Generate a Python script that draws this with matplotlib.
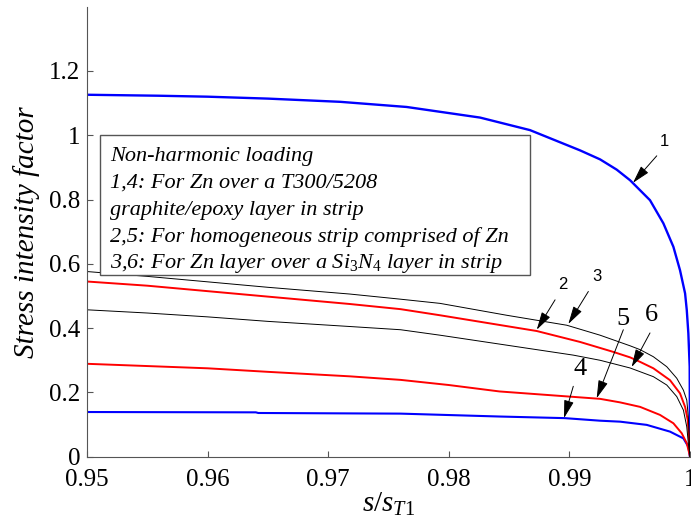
import matplotlib
matplotlib.use('Agg')
import matplotlib.pyplot as plt
from matplotlib.ticker import FuncFormatter
from matplotlib.patches import Rectangle

plt.rcParams['font.family'] = ['Liberation Serif', 'DejaVu Serif']
plt.rcParams['mathtext.fontset'] = 'custom'
plt.rcParams['mathtext.rm'] = 'Liberation Serif'
plt.rcParams['mathtext.it'] = 'Liberation Serif:italic'

# curve 1: blue, Zn over T300/5208
x1 = [0.950, 0.9559, 0.960, 0.965, 0.9710, 0.9765, 0.98259, 0.98673, 0.99088, 0.99254,
      0.99392, 0.99503, 0.99668, 0.99779, 0.99862, 0.99917, 0.99959, 0.99973, 0.99986,
      0.99997, 1.0]
y1 = [1.126, 1.123, 1.120, 1.114, 1.104, 1.088, 1.055, 1.016, 0.953, 0.925,
      0.893, 0.860, 0.798, 0.726, 0.653, 0.580, 0.508, 0.456, 0.384,
      0.280, 0.0]
# curve 2: red, homogeneous Zn
x2 = [0.950, 0.955, 0.960, 0.965, 0.9718, 0.9760, 0.97927, 0.98729, 0.99088, 0.99364,
      0.99503, 0.99586, 0.99696, 0.99834, 0.99917, 0.99959, 0.99981, 0.99992, 1.0]
y2 = [0.545, 0.532, 0.515, 0.498, 0.475, 0.459, 0.440, 0.391, 0.357, 0.326,
      0.309, 0.295, 0.275, 0.238, 0.197, 0.155, 0.114, 0.052, 0.0]
# curve 3: black, Zn over Si3N4
x3 = [0.950, 0.955, 0.960, 0.965, 0.9718, 0.9760, 0.97927, 0.9848, 0.98978, 0.99254,
      0.99503, 0.99586, 0.99696, 0.99807, 0.99890, 0.99945, 0.99973, 0.99986, 0.99994, 1.0]
y3 = [0.576, 0.561, 0.544, 0.527, 0.506, 0.490, 0.477, 0.440, 0.409, 0.378,
      0.345, 0.333, 0.311, 0.280, 0.244, 0.207, 0.176, 0.124, 0.052, 0.0]
# curve 4: blue, lower
x4 = [0.950, 0.9640, 0.9642, 0.976, 0.9842, 0.9896, 0.99254, 0.99420, 0.99641,
      0.99834, 0.99945, 0.99986, 1.0]
y4 = [0.139, 0.138, 0.136, 0.134, 0.125, 0.120, 0.112, 0.109, 0.099,
      0.078, 0.057, 0.031, 0.0]
# curve 5: red, lower
x5 = [0.950, 0.955, 0.960, 0.965, 0.9718, 0.9760, 0.980, 0.9842, 0.99254, 0.99420,
      0.99586, 0.99751, 0.99862, 0.99931, 0.99973, 0.99994, 1.0]
y5 = [0.289, 0.282, 0.275, 0.264, 0.250, 0.239, 0.223, 0.203, 0.180, 0.169,
      0.155, 0.130, 0.104, 0.073, 0.042, 0.010, 0.0]
# curve 6: black, lower
x6 = [0.950, 0.955, 0.960, 0.965, 0.9718, 0.9760, 0.97927, 0.9848, 0.99032, 0.99254,
      0.99503, 0.99696, 0.99807, 0.99890, 0.99945, 0.99973, 0.99986, 1.0]
y6 = [0.457, 0.447, 0.435, 0.421, 0.405, 0.395, 0.378, 0.347, 0.316, 0.300,
      0.276, 0.249, 0.223, 0.187, 0.145, 0.093, 0.042, 0.0]

# arrow labels: (label, head, tail, text pos)
arrows = [
    ('1', (0.99527, 0.852), (0.99724, 0.936), (0.99784, 0.980)),
    ('2', (0.98729, 0.395), (0.98881, 0.488), (0.98944, 0.535)),
    ('3', (0.98991, 0.413), (0.99157, 0.514), (0.99226, 0.560)),
    ('4', (0.98955, 0.120), (0.99032, 0.219), (0.99088, 0.272)),
    ('5', (0.99226, 0.182), (0.99447, 0.395), (0.99447, 0.428)),
    ('6', (0.99516, 0.279), (0.99668, 0.385), (0.99682, 0.441)),
]

legend_lines = [
    'Non-harmonic loading',
    '1,4: For Zn over a T300/5208',
    'graphite/epoxy layer in strip',
    '2,5: For homogeneous strip comprised of Zn',
    '3,6: For Zn layer over a Si$_3$N$_4$ layer in strip',
]

fig = plt.figure(figsize=(6.91, 5.30), dpi=100)
ax = fig.add_axes([0.1259, 0.1383, 0.8727, 0.8491])

ax.plot(x1, y1, color='#0000ff', lw=1.7)
ax.plot(x4, y4, color='#0000ff', lw=1.5)
ax.plot(x2, y2, color='#ff0000', lw=1.4)
ax.plot(x5, y5, color='#ff0000', lw=1.4)
ax.plot(x3, y3, color='k', lw=0.7)
ax.plot(x6, y6, color='k', lw=0.7)

ax.set_xlim(0.95, 1.0)
ax.set_ylim(0, 1.4)
ax.set_xticks([0.95, 0.96, 0.97, 0.98, 0.99, 1.0])
ax.set_yticks([0, 0.2, 0.4, 0.6, 0.8, 1.0, 1.2])
fmt = FuncFormatter(lambda v, p: '%g' % round(v, 4))
ax.xaxis.set_major_formatter(fmt)
ax.yaxis.set_major_formatter(fmt)

for s in ['top', 'right']:
    ax.spines[s].set_visible(False)
for s in ['left', 'bottom']:
    ax.spines[s].set_color('#555555')
ax.tick_params(direction='in', length=4, color='#555555', labelsize=18)
ax.tick_params(axis='x', pad=9)
ax.tick_params(axis='y', pad=5)

ax.set_xlabel(r'$\mathit{s/s_{T1}}$', fontsize=21, labelpad=0)
ax.set_ylabel('Stress intensity factor', fontsize=21, style='italic', labelpad=6)

# legend box
ax.add_patch(Rectangle((0.0216, 0.4044), 0.7131, 0.3112, transform=ax.transAxes,
                       fill=True, facecolor='white', edgecolor='#555555', lw=1.0, zorder=3))
for i, t in enumerate(legend_lines):
    ax.text(0.038, 0.666 - i * 0.059, t, transform=ax.transAxes, fontsize=16,
            style='italic', va='center', ha='left', zorder=4)

for lab, head, tail, tpos in arrows:
    ax.annotate('', xy=head, xytext=tail,
                arrowprops=dict(arrowstyle='-|>,head_length=1.1,head_width=0.3',
                                color='k', lw=0.7, mutation_scale=10,
                                shrinkA=0, shrinkB=0))
    if lab in '123':
        ax.text(tpos[0], tpos[1], lab, fontsize=12, family='Liberation Sans',
                ha='center', va='center')
    else:
        ax.text(tpos[0], tpos[1], lab, fontsize=19, ha='center', va='center')

fig.savefig('out.png', dpi=100)
